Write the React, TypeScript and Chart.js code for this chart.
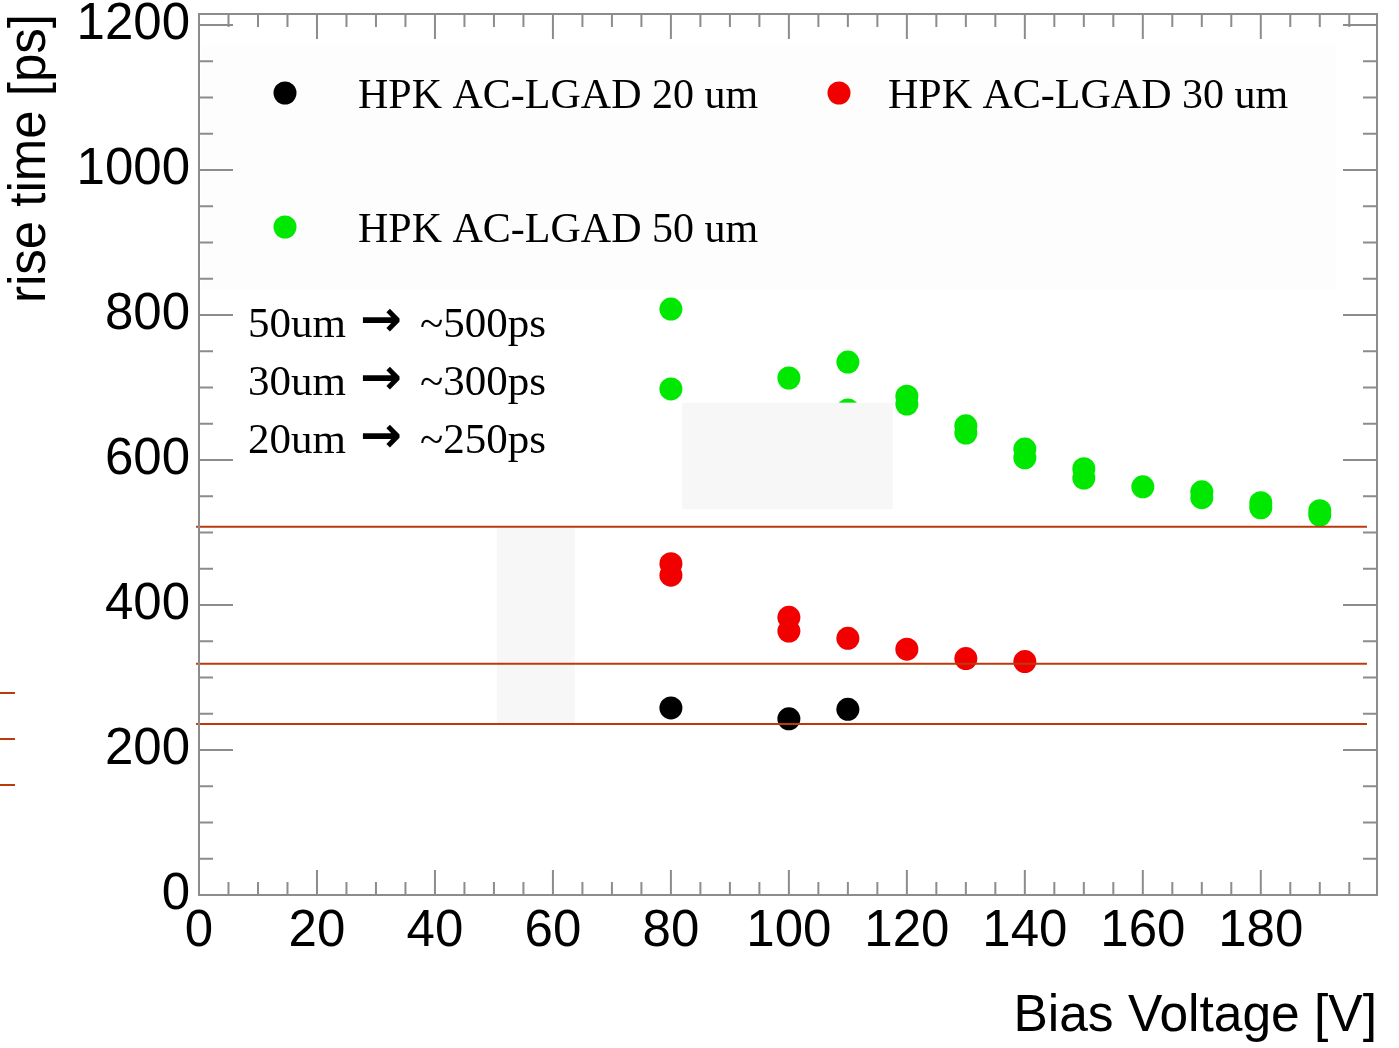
import React, { useEffect, useRef } from 'react';
import { Chart, registerables } from 'chart.js';

Chart.register(...registerables);

// ---- data ----
const seriesLabels = ['HPK AC-LGAD 20 um', 'HPK AC-LGAD 30 um', 'HPK AC-LGAD 50 um'];
const seriesColors = ['#000000', '#f20000', '#00e800'];

const voltage20 = [80, 100, 110];
const rise20 = [258, 243, 256];

const voltage30 = [80, 80, 100, 100, 110, 120, 130, 140];
const rise30 = [457, 441, 383, 364, 354, 339, 326, 322];

const voltage50 = [80, 80, 100, 110, 110, 120, 120, 130, 130, 140, 140, 150, 150, 160, 170, 170, 180, 180, 190, 190];
const rise50 = [808, 698, 713, 735, 669, 688, 677, 647, 637, 615, 603, 588, 575, 563, 556, 548, 541, 534, 530, 524];

const refLevels = [508, 319, 236];
const refSpan = [-0.5, 198];

const xRange = [0, 199.7];
const yRange = [0, 1215];
const xTickValues = [0, 20, 40, 60, 80, 100, 120, 140, 160, 180];
const yTickValues = [0, 200, 400, 600, 800, 1000, 1200];
const xMajorStep = 20;
const xMinorStep = 5;
const yMajorStep = 200;
const yMinorStep = 50;

const noteSizes = ['50um', '30um', '20um'];
const noteTimes = ['~500ps', '~300ps', '~250ps'];

// masking boxes in data units: [x0, x1, y0, y1]
const maskBoxes = [
  [81.9, 117.6, 532, 679],
  [50.5, 63.7, 237, 506],
];

const SANS = '"Liberation Sans", Arial, Helvetica, sans-serif';
const SERIF = '"Liberation Serif", "Times New Roman", serif';
const AXIS_GRAY = '#8c8c8c';
const REF_COLOR = '#bb3a0c';

function toPoints(xs: number[], ys: number[]) {
  return xs.map((x, i) => ({ x, y: ys[i] }));
}

const decorPlugin = {
  id: 'decor',
  beforeDatasetsDraw(chart: any) {
    const ctx = chart.ctx;
    ctx.save();
    ctx.fillStyle = '#fdfdfd';
    ctx.fillRect(201, 45, 1135, 245);
    ctx.restore();
    chart.$masked = false;
  },
  beforeDatasetDraw(chart: any, args: any) {
    if (args.meta.type !== 'line' || chart.$masked) return;
    chart.$masked = true;
    const { x, y } = chart.scales;
    const ctx = chart.ctx;
    ctx.save();
    ctx.fillStyle = '#f7f7f7';
    maskBoxes.forEach(([x0, x1, y0, y1]) => {
      const px0 = x.getPixelForValue(x0);
      const px1 = x.getPixelForValue(x1);
      const py0 = y.getPixelForValue(y1);
      const py1 = y.getPixelForValue(y0);
      ctx.fillRect(px0, py0, px1 - px0, py1 - py0);
    });
    ctx.restore();
  },
  afterDraw(chart: any) {
    const ctx = chart.ctx;
    const { x, y } = chart.scales;
    const a = chart.chartArea;
    ctx.save();
    // frame
    ctx.strokeStyle = AXIS_GRAY;
    ctx.lineWidth = 2;
    ctx.strokeRect(a.left, a.top, a.right - a.left, a.bottom - a.top);
    ctx.beginPath();
    for (let v = xRange[0]; v <= xRange[1]; v += xMinorStep) {
      const px = x.getPixelForValue(v);
      const len = v % xMajorStep === 0 ? 25 : 13;
      ctx.moveTo(px, a.bottom);
      ctx.lineTo(px, a.bottom - len);
      ctx.moveTo(px, a.top);
      ctx.lineTo(px, a.top + len);
    }
    for (let v = yRange[0]; v <= yRange[1]; v += yMinorStep) {
      const py = y.getPixelForValue(v);
      const len = v % yMajorStep === 0 ? 34 : 14;
      ctx.moveTo(a.left, py);
      ctx.lineTo(a.left + len, py);
      ctx.moveTo(a.right, py);
      ctx.lineTo(a.right - len, py);
    }
    ctx.stroke();

    // legend
    const legendDot = [
      [285, 93],
      [839, 93],
      [285, 227],
    ];
    const legendTextX = [358, 888, 358];
    ctx.font = `42px ${SERIF}`;
    ctx.textBaseline = 'alphabetic';
    ctx.textAlign = 'left';
    chart.data.datasets.forEach((ds: any, i: number) => {
      if (ds.type === 'line') return;
      const [lx, ly] = legendDot[i];
      ctx.fillStyle = ds.backgroundColor;
      ctx.beginPath();
      ctx.arc(lx, ly, 11.5, 0, Math.PI * 2);
      ctx.fill();
      ctx.fillStyle = '#000';
      ctx.fillText(ds.label, legendTextX[i], ly + 15);
    });

    // notes
    noteSizes.forEach((s, i) => {
      const base = 337 + i * 58;
      ctx.fillStyle = '#000';
      ctx.font = `43px ${SERIF}`;
      ctx.fillText(s, 248, base);
      ctx.font = `bold 50px "DejaVu Sans", sans-serif`;
      ctx.fillText('\u2192', 360, base - 1);
      ctx.font = `43px ${SERIF}`;
      ctx.fillText(noteTimes[i], 420, base);
    });

    // small stray dashes left of axis
    ctx.strokeStyle = REF_COLOR;
    ctx.lineWidth = 2;
    ctx.beginPath();
    [693, 739, 785].forEach((py) => {
      ctx.moveTo(0, py);
      ctx.lineTo(15, py);
    });
    ctx.stroke();
    ctx.restore();
  },
};

export default function App() {
  const ref = useRef<HTMLCanvasElement | null>(null);

  useEffect(() => {
    document.body.style.margin = '0';
    const canvas = ref.current;
    if (!canvas) return;

    const scatterSets = [
      toPoints(voltage20, rise20),
      toPoints(voltage30, rise30),
      toPoints(voltage50, rise50),
    ].map((data, i) => ({
      type: 'scatter' as const,
      label: seriesLabels[i],
      data,
      backgroundColor: seriesColors[i],
      borderWidth: 0,
      pointRadius: 11.5,
      pointHoverRadius: 11.5,
      pointBorderWidth: 0,
      order: 1,
    }));

    const lineSets = refLevels.map((lv) => ({
      type: 'line' as const,
      label: `ref ${lv}`,
      data: refSpan.map((xv) => ({ x: xv, y: lv })),
      borderColor: REF_COLOR,
      borderWidth: 2,
      pointRadius: 0,
      fill: false,
      clip: false as any,
      order: 0,
    }));

    const chart = new Chart(canvas, {
      type: 'scatter',
      data: { datasets: [...scatterSets, ...lineSets] as any },
      options: {
        animation: false,
        responsive: false,
        devicePixelRatio: 1,
        events: [],
        layout: { padding: { top: 14, right: 22, left: 0, bottom: 0 } },
        plugins: {
          legend: { display: false },
          tooltip: { enabled: false },
        },
        scales: {
          x: {
            type: 'linear',
            min: xRange[0],
            max: xRange[1],
            grid: { display: false, drawTicks: false },
            border: { display: false },
            afterBuildTicks: (s: any) => {
              s.ticks = xTickValues.map((value) => ({ value }));
            },
            ticks: {
              autoSkip: false,
              maxRotation: 0,
              color: '#000',
              padding: 6,
              font: { family: SANS, size: 51 },
              callback: (v: any) => String(v),
            },
            title: {
              display: true,
              text: 'Bias Voltage [V]',
              align: 'end',
              color: '#000',
              padding: 0,
              font: { family: SANS, size: 51.5 },
            },
            afterFit: (s: any) => {
              s.height = 153;
              s.paddingLeft = 0;
              s.paddingRight = 0;
            },
          },
          y: {
            type: 'linear',
            min: yRange[0],
            max: yRange[1],
            grid: { display: false, drawTicks: false },
            border: { display: false },
            afterBuildTicks: (s: any) => {
              s.ticks = yTickValues.map((value) => ({ value }));
            },
            ticks: {
              autoSkip: false,
              color: '#000',
              padding: 9,
              font: { family: SANS, size: 51 },
              callback: (v: any) => String(v),
            },
            title: {
              display: true,
              text: 'rise time [ps]',
              align: 'end',
              color: '#000',
              padding: 0,
              font: { family: SANS, size: 51 },
            },
            afterFit: (s: any) => {
              s.width = 199;
              s.paddingTop = 0;
              s.paddingBottom = 0;
            },
          },
        },
      },
      plugins: [decorPlugin],
    });

    return () => chart.destroy();
  }, []);

  return (
    <div style={{ position: 'fixed', left: 0, top: 0, width: 1399, height: 1048, background: '#fff' }}>
      <canvas ref={ref} width={1399} height={1048} />
    </div>
  );
}
